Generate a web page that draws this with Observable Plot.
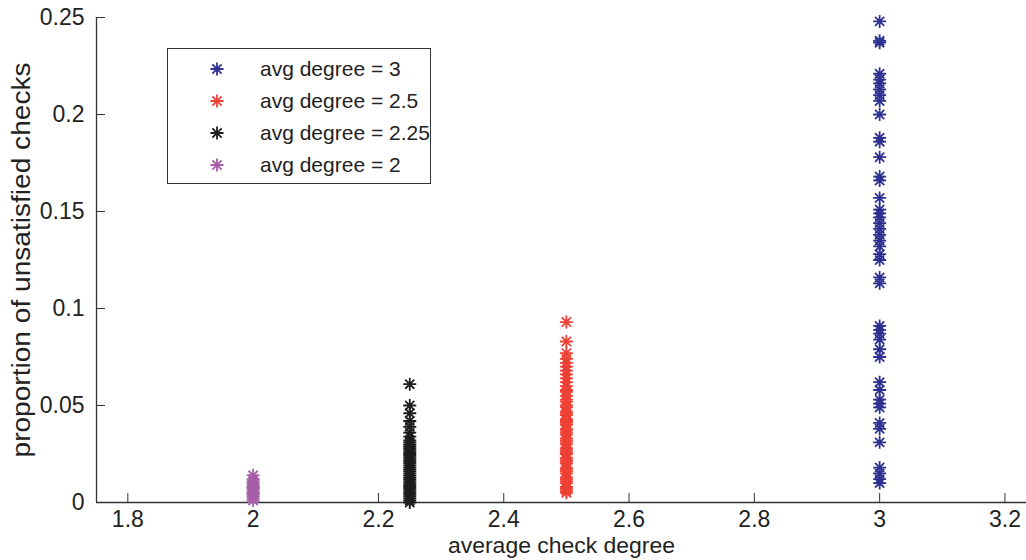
<!DOCTYPE html>
<html><head><meta charset="utf-8">
<script src="https://cdn.jsdelivr.net/npm/d3@7"></script>
<script src="https://cdn.jsdelivr.net/npm/@observablehq/plot@0.6"></script>
<style>
body{margin:0;background:#fff;}
#wrap{position:relative;width:1026px;height:560px;font-family:"Liberation Sans",Arial,Helvetica,sans-serif;}
#legend{position:absolute;left:167px;top:48px;width:264px;height:136px;border:1.5px solid #333;background:#fff;box-sizing:border-box;}
</style></head><body><div id="wrap"></div>
<script>
const seriesNames = ["avg degree = 3", "avg degree = 2.5", "avg degree = 2.25", "avg degree = 2"];
const seriesX = [3, 2.5, 2.25, 2];
const seriesColors = ["#2e3192", "#ee4136", "#1e1e1e", "#a65ea8"];

const degree3Y = [0.248, 0.238, 0.237, 0.221, 0.218, 0.216, 0.213, 0.21, 0.207, 0.2, 0.188, 0.186, 0.178, 0.168, 0.166, 0.157, 0.151, 0.149, 0.147, 0.144, 0.141, 0.138, 0.135, 0.132, 0.128, 0.125, 0.116, 0.113, 0.091, 0.089, 0.087, 0.084, 0.079, 0.075, 0.062, 0.058, 0.053, 0.051, 0.049, 0.041, 0.038, 0.031, 0.018, 0.015, 0.012, 0.01];
const degree25Y = [0.093, 0.083, 0.077, 0.074, 0.072, 0.07, 0.068, 0.066, 0.064, 0.062, 0.06, 0.058, 0.057, 0.055, 0.053, 0.052, 0.05, 0.049, 0.047, 0.046, 0.045, 0.043, 0.042, 0.041, 0.04, 0.038, 0.037, 0.036, 0.035, 0.033, 0.032, 0.031, 0.03, 0.028, 0.027, 0.026, 0.025, 0.023, 0.022, 0.021, 0.02, 0.018, 0.017, 0.016, 0.015, 0.013, 0.012, 0.011, 0.01, 0.008, 0.007, 0.006, 0.005];
const degree225Y = [0.061, 0.05, 0.046, 0.042, 0.039, 0.036, 0.034, 0.032, 0.031, 0.03, 0.029, 0.028, 0.027, 0.026, 0.025, 0.024, 0.023, 0.022, 0.021, 0.02, 0.019, 0.018, 0.017, 0.016, 0.015, 0.014, 0.013, 0.012, 0.011, 0.01, 0.009, 0.008, 0.007, 0.006, 0.005, 0.004, 0.003, 0.002, 0.001, 0.0];
const degree2Y = [0.014, 0.012, 0.011, 0.01, 0.009, 0.008, 0.0075, 0.007, 0.006, 0.005, 0.0045, 0.004, 0.003, 0.002, 0.001];

const xTicks = [1.8, 2, 2.2, 2.4, 2.6, 2.8, 3, 3.2];
const yTicks = [0, 0.05, 0.1, 0.15, 0.2, 0.25];
const xDomain = [1.75, 3.2344];
const yDomain = [0, 0.25];
const xLabel = "average check degree";
const yLabel = "proportion of unsatisfied checks";

const seriesY = [degree3Y, degree25Y, degree225Y, degree2Y];
const data = seriesNames.flatMap((name, i) => seriesY[i].map(y => ({series: name, x: seriesX[i], y})));

const asterisk = {
  draw(ctx, size) {
    const r = Math.sqrt(size / Math.PI), d = r * Math.SQRT1_2;
    ctx.moveTo(-r, 0); ctx.lineTo(r, 0);
    ctx.moveTo(0, -r); ctx.lineTo(0, r);
    ctx.moveTo(-d, -d); ctx.lineTo(d, d);
    ctx.moveTo(-d, d); ctx.lineTo(d, -d);
  }
};

const chart = Plot.plot({
  width: 1026, height: 560,
  marginLeft: 96, marginRight: 0, marginTop: 17, marginBottom: 58,
  style: {fontFamily: '"Liberation Sans", Arial, Helvetica, sans-serif', fontSize: "22px", color: "#222", background: "#fff"},
  x: {domain: xDomain},
  y: {domain: yDomain},
  color: {domain: seriesNames, range: seriesColors},
  marks: [
    Plot.ruleY([yDomain[0]], {stroke: "#333", strokeWidth: 1.3}),
    Plot.ruleX([xDomain[0]], {stroke: "#333", strokeWidth: 1.3}),
    Plot.axisX({ticks: xTicks, tickSize: -9, tickPadding: 17, fontSize: 23, tickFormat: d => String(d), stroke: "#333", label: xLabel, labelAnchor: "center", labelOffset: 50, labelArrow: "none"}),
    Plot.axisY({ticks: yTicks, tickSize: -9, tickPadding: 21, fontSize: 23, tickFormat: d => String(d), stroke: "#333", label: yLabel, labelAnchor: "center", labelOffset: 84, labelArrow: "none"}),
    Plot.dot(data, {x: "x", y: "y", stroke: "series", fill: "none", symbol: asterisk, r: 6.5, strokeWidth: 1.8})
  ]
});

const wrap = document.getElementById("wrap");
wrap.appendChild(chart);

// stretch axis labels like the original figure
d3.select(chart).selectAll('[aria-label="x-axis label"] text')
  .attr("font-size", 22).attr("textLength", 227).attr("lengthAdjust", "spacingAndGlyphs");
d3.select(chart).selectAll('[aria-label="y-axis label"] text')
  .attr("font-size", 25).attr("textLength", 395).attr("lengthAdjust", "spacingAndGlyphs");

// legend
const legend = document.createElement("div");
legend.id = "legend";
wrap.appendChild(legend);
const lsvg = d3.select(legend).append("svg").attr("width", 262).attr("height", 134)
  .style("position", "absolute").style("left", 0).style("top", 0);
const rowY = i => 20 + i * 32;
seriesNames.forEach((name, i) => {
  const g = lsvg.append("g").attr("transform", `translate(49,${rowY(i)})`);
  const p = d3.path(); asterisk.draw(p, Math.PI * 6.5 * 6.5);
  g.append("path").attr("d", p.toString()).attr("stroke", seriesColors[i]).attr("stroke-width", 1.8).attr("fill", "none");
  lsvg.append("text").attr("x", 92).attr("y", rowY(i)).attr("dy", "0.35em")
    .attr("font-size", 21).attr("fill", "#222")
    .style("font-family", '"Liberation Sans", Arial, Helvetica, sans-serif')
    .text(name);
});
</script></body></html>
